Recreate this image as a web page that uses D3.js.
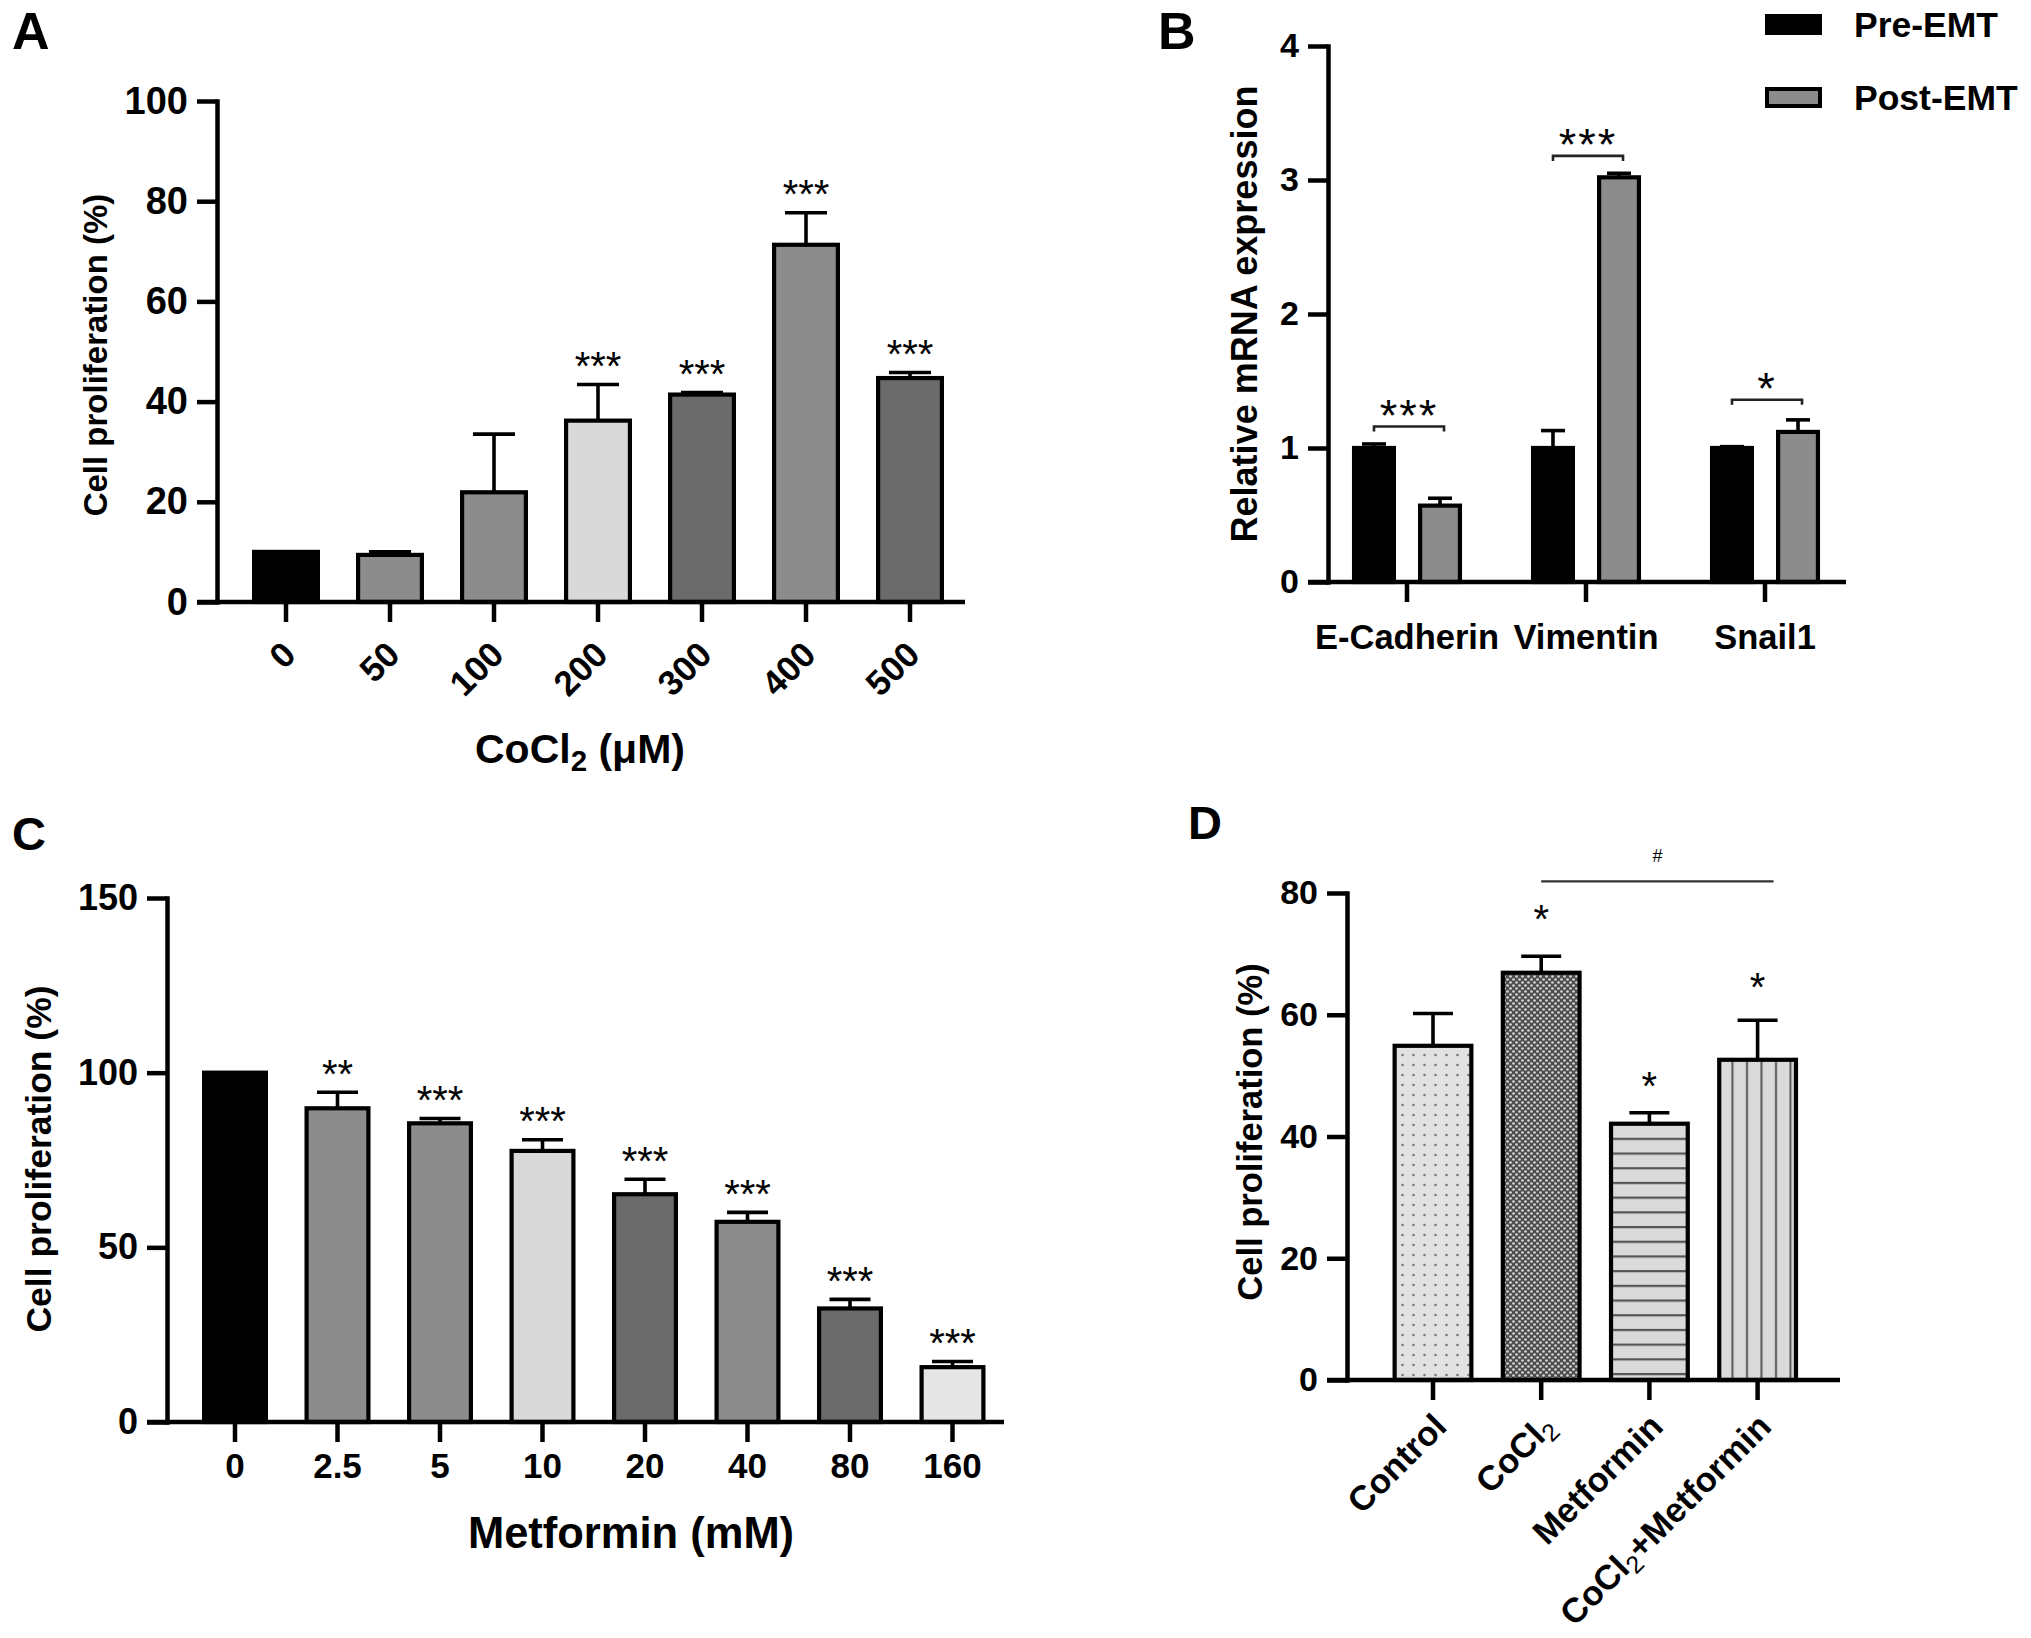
<!DOCTYPE html>
<html>
<head>
<meta charset="utf-8">
<script src="https://cdn.jsdelivr.net/npm/d3@7"></script>
<style>
html,body{margin:0;padding:0;background:#fff}
svg{display:block}
text{font-family:"Liberation Sans",Arial,Helvetica,sans-serif;font-weight:bold;fill:#000}
</style>
</head>
<body>
<svg id="fig" width="2031" height="1638" viewBox="0 0 2031 1638"></svg>
<script>
// ================= DATA =================
// Panel A: CoCl2 dose vs cell proliferation (%)
const catsA = ["0", "50", "100", "200", "300", "400", "500"];
const valsA = [10, 9.4, 21.9, 36.2, 41.4, 71.3, 44.7];
const errA = [0, 0.6, 11.6, 7.2, 0.4, 6.4, 1.1];
const starsA = ["", "", "", "***", "***", "***", "***"];
const ticksA = [0, 20, 40, 60, 80, 100];

// Panel B: relative mRNA expression, pre / post EMT
const genesB = ["E-Cadherin", "Vimentin", "Snail1"];
const seriesB = ["Pre-EMT", "Post-EMT"];
const preB = [1.0, 1.0, 1.0];
const preErrB = [0.03, 0.13, 0.01];
const postB = [0.57, 3.02, 1.12];
const postErrB = [0.055, 0.03, 0.09];
const bracketB = [1.16, 3.18, 1.36];
const starsB = ["***", "***", "*"];
const ticksB = [0, 1, 2, 3, 4];

// Panel C: Metformin dose vs cell proliferation (%)
const catsC = ["0", "2.5", "5", "10", "20", "40", "80", "160"];
const valsC = [100, 89.8, 85.5, 77.6, 65.2, 57.3, 32.5, 15.7];
const errC = [0, 4.6, 1.4, 3.2, 4.3, 2.7, 2.6, 1.6];
const starsC = ["", "**", "***", "***", "***", "***", "***", "***"];
const ticksC = [0, 50, 100, 150];

// Panel D: treatment groups
const catsD = ["Control", "CoCl₂", "Metformin", "CoCl₂+Metformin"];
const valsD = [54.9, 66.9, 42.1, 52.6];
const errD = [5.3, 2.7, 1.8, 6.5];
const starsD = ["", "*", "*", "*"];
const starLevelD = [0, 77.1, 49.7, 66.0];
const hashPairD = ["CoCl₂", "CoCl₂+Metformin"];
const hashLevelD = 81.9;
const hashLabelD = "#";
const ticksD = [0, 20, 40, 60, 80];

// ================= STYLE =================
const AXW = 4.5, BARW = 4.2, ERRW = 3.6;
const MID = "#8c8c8c", DARK = "#6b6b6b", LIGHT = "#d9d9d9", LIGHTER = "#e6e6e6";
const colorA = d3.scaleOrdinal().domain(catsA).range(["#000", MID, MID, LIGHT, DARK, MID, DARK]);
const colorB = d3.scaleOrdinal().domain(seriesB).range(["#000", MID]);
const colorC = d3.scaleOrdinal().domain(catsC).range(["#000", MID, MID, LIGHT, DARK, MID, DARK, LIGHTER]);
const colorD = d3.scaleOrdinal().domain(catsD).range(["url(#pDots)", "url(#pCheck)", "url(#pHoriz)", "url(#pVert)"]);

const svg = d3.select("#fig");

// patterns for panel D
const defs = svg.append("defs");
{
  const p = defs.append("pattern").attr("id", "pDots").attr("patternUnits", "userSpaceOnUse").attr("width", 11).attr("height", 10);
  p.append("rect").attr("width", 11).attr("height", 10).attr("fill", "#e2e2e2");
  p.append("circle").attr("cx", 5.5).attr("cy", 5).attr("r", 1.3).attr("fill", "#7a7a7a");
  const c = defs.append("pattern").attr("id", "pCheck").attr("patternUnits", "userSpaceOnUse").attr("width", 6).attr("height", 6);
  c.append("rect").attr("width", 6).attr("height", 6).attr("fill", "#4d4d4d");
  c.append("circle").attr("cx", 1.5).attr("cy", 1.5).attr("r", 1.35).attr("fill", "#d6d6d6");
  c.append("circle").attr("cx", 4.5).attr("cy", 4.5).attr("r", 1.35).attr("fill", "#d6d6d6");
  const h = defs.append("pattern").attr("id", "pHoriz").attr("patternUnits", "userSpaceOnUse").attr("width", 10).attr("height", 14.7);
  h.append("rect").attr("width", 10).attr("height", 14.7).attr("fill", "#dadada");
  h.append("line").attr("x1", 0).attr("x2", 10).attr("y1", 7).attr("y2", 7).attr("stroke", "#555").attr("stroke-width", 2.2);
  const v = defs.append("pattern").attr("id", "pVert").attr("patternUnits", "userSpaceOnUse").attr("width", 14.5).attr("height", 10);
  v.append("rect").attr("width", 14.5).attr("height", 10).attr("fill", "#dadada");
  v.append("line").attr("x1", 7).attr("x2", 7).attr("y1", 0).attr("y2", 10).attr("stroke", "#555").attr("stroke-width", 2);
}

// ================= HELPERS =================
function rich(sel, str, fs, subBold) {
  sel.text(null);
  const parts = String(str).split("₂");
  parts.forEach((p, i) => {
    if (i > 0) {
      sel.append("tspan").attr("font-size", fs * 0.72).attr("dy", fs * 0.2)
        .style("font-weight", subBold ? "bold" : "normal").text("2");
      if (p.length) sel.append("tspan").attr("dy", -fs * 0.2).text(p);
    } else if (p.length) sel.append("tspan").text(p);
  });
}

function drawYAxis(g, y, ticks, xPos, fs) {
  const ax = g.append("g").attr("transform", `translate(${xPos},0)`)
    .call(d3.axisLeft(y).tickValues(ticks).tickFormat(d3.format("d")).tickSize(20).tickSizeOuter(0).tickPadding(9));
  ax.select(".domain").attr("stroke", "#000").attr("stroke-width", AXW).attr("stroke-linecap", "square");
  ax.selectAll(".tick line").attr("stroke", "#000").attr("stroke-width", AXW);
  ax.selectAll(".tick text").attr("font-size", fs).attr("fill", "#000");
}

function drawXAxis(g, x, y0, xStart, xEnd, fs, pad) {
  g.append("line").attr("x1", xStart).attr("x2", xEnd).attr("y1", y0).attr("y2", y0)
    .attr("stroke", "#000").attr("stroke-width", AXW);
  const ax = g.append("g").attr("transform", `translate(0,${y0})`)
    .call(d3.axisBottom(x).tickSize(20).tickSizeOuter(0).tickPadding(pad));
  ax.select(".domain").remove();
  ax.selectAll(".tick line").attr("stroke", "#000").attr("stroke-width", AXW);
  ax.selectAll(".tick text").attr("font-size", fs).attr("fill", "#000");
  return ax;
}

function rotateLabels(ax, dx, dy, fs) {
  ax.selectAll(".tick text")
    .attr("x", 0).attr("y", 0).attr("dy", "0.35em")
    .attr("text-anchor", "end")
    .attr("transform", `translate(${dx},${dy}) rotate(-45)`)
    .each(function (d) { rich(d3.select(this), d, fs, false); });
}

function starText(g, x, yCenter, str, fs, extra) {
  const t = g.append("text").attr("x", x).attr("y", yCenter + 0.56 * fs)
    .attr("text-anchor", "middle").attr("font-size", fs).text(str);
  if (extra) extra(t);
  return t;
}

function yLabel(g, str, cx, cy, fs) {
  g.append("text").attr("transform", `translate(${cx},${cy}) rotate(-90)`)
    .attr("text-anchor", "middle").attr("dy", "0.35em").attr("font-size", fs).text(str);
}

function panelLetter(str, x, y, fs) {
  svg.append("text").attr("x", x).attr("y", y).attr("font-size", fs).style("font-weight", "900").text(str);
}

// simple single-series bar panel
function simplePanel(o) {
  const g = svg.append("g");
  const y = d3.scaleLinear().domain([0, o.yMax]).range([o.y0, o.yTop]);
  const x = d3.scaleBand().domain(o.cats).range(o.xRange).paddingInner(o.pad).paddingOuter(o.pad / 2);
  const bw = x.bandwidth();
  const rows = o.cats.map((c, i) => ({ c, v: o.vals[i], e: o.errs[i], s: o.stars[i], i }));

  g.selectAll("rect.bar").data(rows).join("rect").attr("class", "bar")
    .attr("x", d => x(d.c) + BARW / 2).attr("width", bw - BARW)
    .attr("y", d => y(d.v)).attr("height", d => y(0) - y(d.v))
    .attr("fill", d => o.color(d.c)).attr("stroke", "#000").attr("stroke-width", BARW);

  const eb = rows.filter(d => d.e > 0);
  g.selectAll("line.stem").data(eb).join("line").attr("class", "stem")
    .attr("x1", d => x(d.c) + bw / 2).attr("x2", d => x(d.c) + bw / 2)
    .attr("y1", d => y(d.v)).attr("y2", d => y(d.v + d.e))
    .attr("stroke", "#000").attr("stroke-width", ERRW);
  g.selectAll("line.cap").data(eb).join("line").attr("class", "cap")
    .attr("x1", d => x(d.c) + bw / 2 - o.cap / 2).attr("x2", d => x(d.c) + bw / 2 + o.cap / 2)
    .attr("y1", d => y(d.v + d.e)).attr("y2", d => y(d.v + d.e))
    .attr("stroke", "#000").attr("stroke-width", ERRW);

  rows.filter(d => d.s).forEach(d => {
    const yc = o.starLevels ? y(o.starLevels[d.i]) : y(d.v + d.e) - o.starGap;
    starText(g, x(d.c) + bw / 2, yc, d.s, o.starFs, t => t.style("font-weight", "normal").attr("fill", "#222"));
  });

  drawYAxis(g, y, o.ticks, o.yAxisX, o.yFs);
  const ax = drawXAxis(g, x, o.y0, o.yAxisX - 20, o.xEnd, o.xFs, o.xPad || 10);
  if (o.rotate) rotateLabels(ax, o.rotate[0], o.rotate[1], o.xFs);
  return { g, x, y, bw };
}

// ================= PANEL A =================
{
  const P = simplePanel({
    cats: catsA, vals: valsA, errs: errA, stars: starsA, ticks: ticksA, color: colorA,
    yMax: 100, y0: 602, yTop: 101, xRange: [234, 962], pad: 0.346, yAxisX: 217, xEnd: 965,
    cap: 42, starGap: 27, starFs: 40, yFs: 38, xFs: 35, rotate: [3, 46]
  });
  yLabel(P.g, "Cell proliferation (%)", 95, 355, 33);
  const t = P.g.append("text").attr("x", 580).attr("y", 763).attr("text-anchor", "middle").attr("font-size", 41);
  rich(t, "CoCl₂ (μM)", 41, true);
  panelLetter("A", 12, 49, 52);
}

// ================= PANEL B =================
{
  const g = svg.append("g");
  const y = d3.scaleLinear().domain([0, 4]).range([582, 46]);
  const x0 = d3.scaleBand().domain(genesB).range([1317.5, 1854.5]).paddingInner(0.385).paddingOuter(0.1925);
  const x1 = d3.scaleBand().domain(seriesB).range([0, x0.bandwidth()]).paddingInner(0.333);
  const bw = x1.bandwidth();
  const rows = [];
  genesB.forEach((gene, i) => {
    rows.push({ gene, s: seriesB[0], v: preB[i], e: preErrB[i] });
    rows.push({ gene, s: seriesB[1], v: postB[i], e: postErrB[i] });
  });
  const cx = d => x0(d.gene) + x1(d.s) + bw / 2;
  g.selectAll("rect.bar").data(rows).join("rect")
    .attr("x", d => x0(d.gene) + x1(d.s) + BARW / 2).attr("width", bw - BARW)
    .attr("y", d => y(d.v)).attr("height", d => y(0) - y(d.v))
    .attr("fill", d => colorB(d.s)).attr("stroke", "#000").attr("stroke-width", BARW);
  g.selectAll("line.stem").data(rows).join("line")
    .attr("x1", cx).attr("x2", cx).attr("y1", d => y(d.v)).attr("y2", d => y(d.v + d.e))
    .attr("stroke", "#000").attr("stroke-width", ERRW);
  g.selectAll("line.cap").data(rows).join("line")
    .attr("x1", d => cx(d) - 12).attr("x2", d => cx(d) + 12)
    .attr("y1", d => y(d.v + d.e)).attr("y2", d => y(d.v + d.e))
    .attr("stroke", "#000").attr("stroke-width", ERRW);

  genesB.forEach((gene, i) => {
    const xa = x0(gene) + x1(seriesB[0]) + bw / 2;
    const xb = x0(gene) + x1(seriesB[1]) + bw / 2 + 4;
    const yb = y(bracketB[i]);
    g.append("path").attr("d", `M${xa},${yb + 5}V${yb}H${xb}V${yb + 5}`)
      .attr("fill", "none").attr("stroke", "#222").attr("stroke-width", 2.6);
    starText(g, (xa + xb) / 2, yb - 21, starsB[i], 45, t => t.style("font-weight", "normal").attr("fill", "#222").attr("letter-spacing", 2));
  });

  drawYAxis(g, y, ticksB, 1328, 34);
  drawXAxis(g, x0, 582, 1308, 1846, 34.5, 23);
  yLabel(g, "Relative mRNA expression", 1244, 314, 36);

  // legend
  const lg = g.append("g");
  seriesB.forEach((s, i) => {
    const yy = 16 + i * 73;
    lg.append("rect").attr("x", 1767).attr("y", yy).attr("width", 53).attr("height", 17)
      .attr("fill", colorB(s)).attr("stroke", "#000").attr("stroke-width", 4);
    lg.append("text").attr("x", 1854).attr("y", yy + 8.5).attr("dy", "0.35em").attr("font-size", 35.5).text(s);
  });
  panelLetter("B", 1158, 49, 52);
}

// ================= PANEL C =================
{
  const P = simplePanel({
    cats: catsC, vals: valsC, errs: errC, stars: starsC, ticks: ticksC, color: colorC,
    yMax: 150, y0: 1422, yTop: 898, xRange: [183.75, 1003.75], pad: 0.356, yAxisX: 167, xEnd: 1004,
    cap: 41, starGap: 27, starFs: 40, yFs: 36, xFs: 35, xPad: 11
  });
  yLabel(P.g, "Cell proliferation (%)", 39, 1159, 35.5);
  P.g.append("text").attr("x", 631).attr("y", 1548).attr("text-anchor", "middle").attr("font-size", 43.5).text("Metformin (mM)");
  panelLetter("C", 12, 850, 47);
}

// ================= PANEL D =================
{
  const P = simplePanel({
    cats: catsD, vals: valsD, errs: errD, stars: starsD, ticks: ticksD, color: colorD,
    yMax: 80, y0: 1380, yTop: 893, xRange: [1378.9, 1811.7], pad: 0.252, yAxisX: 1347, xEnd: 1840,
    cap: 40, starLevels: starLevelD, starFs: 40, yFs: 34, xFs: 34.5, rotate: [7, 40]
  });
  const { g, x, y, bw } = P;
  const xa = x(hashPairD[0]) + bw / 2;
  const xb = x(hashPairD[1]) + bw / 2 + 16;
  const yb = y(hashLevelD);
  g.append("line").attr("x1", xa).attr("x2", xb).attr("y1", yb).attr("y2", yb)
    .attr("stroke", "#333").attr("stroke-width", 2.2);
  g.append("text").attr("x", (xa + xb) / 2).attr("y", yb - 26).attr("dy", "0.35em")
    .attr("text-anchor", "middle").attr("font-size", 18).style("font-weight", "normal").attr("fill", "#333").text(hashLabelD);
  yLabel(g, "Cell proliferation (%)", 1250, 1132, 34.5);
  panelLetter("D", 1188, 839, 47);
}
</script>
</body>
</html>
